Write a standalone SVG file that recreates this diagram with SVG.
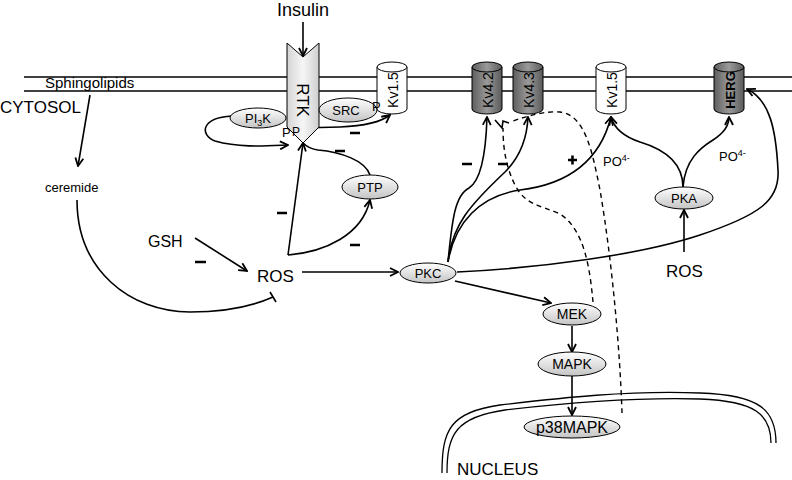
<svg xmlns="http://www.w3.org/2000/svg" width="792" height="480" viewBox="0 0 792 480">
<style>
text{font-family:"Liberation Sans",Arial,sans-serif;fill:#000}
.c{stroke:#000;stroke-width:1.6;fill:none}
.d{stroke:#000;stroke-width:1.4;fill:none;stroke-dasharray:5,4}
.m{stroke:#000;stroke-width:2.6;fill:none}
.e{stroke:#000;stroke-width:1;fill:url(#eg)}
.cw{stroke:#000;stroke-width:1;fill:#fff}
.cd{stroke:#000;stroke-width:1;fill:url(#dg)}
.mem{stroke:#000;stroke-width:1.3;fill:none}
.lab{font-size:13px;text-anchor:middle}
.kv{font-size:14px;text-anchor:middle}
</style>
<defs>
<linearGradient id="eg" x1="0" y1="0" x2="0" y2="1"><stop offset="0" stop-color="#ffffff"/><stop offset="1" stop-color="#c4c4c4"/></linearGradient>
<linearGradient id="dg" x1="0" y1="0" x2="1" y2="0"><stop offset="0" stop-color="#5e5e5e"/><stop offset="0.5" stop-color="#9a9a9a"/><stop offset="1" stop-color="#5a5a5a"/></linearGradient>
<linearGradient id="rg" x1="0" y1="0" x2="1" y2="0"><stop offset="0" stop-color="#d4d4d4"/><stop offset="0.5" stop-color="#f6f6f6"/><stop offset="1" stop-color="#cfcfcf"/></linearGradient>
<marker id="arr" viewBox="0 0 10 10" refX="9" refY="5" markerWidth="10" markerHeight="10" markerUnits="userSpaceOnUse" orient="auto"><path d="M1,1 L9,5 L1,9" fill="none" stroke="#000" stroke-width="1.8"/></marker>
</defs>
<rect width="792" height="480" fill="#fff"/>
<g id="membrane">
<line class="mem" x1="24" y1="77" x2="792" y2="77"/>
<line class="mem" x1="24" y1="91" x2="792" y2="91"/>
<text x="45" y="88" style="font-size:15px">Sphingolipids</text>
<text x="0" y="113" style="font-size:17px">CYTOSOL</text>
</g>
<g id="nucleus">
<path class="mem" d="M442,473 C442,430 450,412 500,405 C560,398 630,390 700,393 C760,395 776,410 776,443"/>
<path class="mem" d="M447,473 C447,434 456,417 505,410 C565,403 630,397 700,399 C756,401 771,415 771,443"/>
<text x="457" y="475" style="font-size:17px">NUCLEUS</text>
</g>
<g id="connectors">
<path class="c" marker-end="url(#arr)" d="M303,22 L303,56"/>
<path class="c" marker-end="url(#arr)" d="M90,95 L78,166"/>
<path class="c" d="M77,200 C77,270 130,312 190,312 C230,312 255,305 273,297"/>
<path class="c" d="M270,292 L276,302"/>
<path class="c" marker-end="url(#arr)" d="M195,238 L247,271"/>
<path class="c" marker-end="url(#arr)" d="M302,272 L398,272"/>
<path class="c" marker-end="url(#arr)" d="M288,255 L303,143"/>
<path class="c" marker-end="url(#arr)" d="M288,255 C325,252 362,235 370,200"/>
<path class="c" d="M370,175 C365,160 340,152 318,150 C310,149 306,146 303,143"/>
<path class="c" marker-end="url(#arr)" d="M232,116 C200,118 200,135 215,141 C240,148 265,146 288,145"/>
<path class="c" marker-end="url(#arr)" d="M300,128 L340,127 C362,126 381,122 390,115"/>
<path class="c" marker-end="url(#arr)" d="M448,262 C452,220 455,195 469,188 C482,180 486,150 487,117"/>
<path class="c" marker-end="url(#arr)" d="M448,262 C452,225 470,205 505,172 C520,157 527,140 528,117"/>
<path class="c" marker-end="url(#arr)" d="M448,262 C455,222 480,196 520,190 C570,184 600,160 611,117"/>
<path class="c" marker-end="url(#arr)" d="M457,272 C540,268 640,255 700,235 C760,215 780,200 778,170 C776,130 770,100 747,89"/>
<path class="c" marker-end="url(#arr)" d="M455,281 L551,303"/>
<path class="c" marker-end="url(#arr)" d="M572,326 L572,352"/>
<path class="c" marker-end="url(#arr)" d="M572,376 L572,415"/>
<path class="c" marker-end="url(#arr)" d="M684,252 L684,210"/>
<path class="c" marker-end="url(#arr)" d="M683,187 C683,160 660,148 640,142 C625,137 614,128 611,117"/>
<path class="c" marker-end="url(#arr)" d="M683,187 C685,160 700,148 713,140 C724,133 729,126 729,117"/>
<path class="d" d="M593,302 C590,270 585,230 560,214 C540,205 525,205 515,185 C505,165 503,145 503,128"/>
<path class="d" d="M622,413 C620,350 612,260 600,190 C592,150 585,115 560,112 C545,111 530,115 510,122"/>
<path class="c" stroke-width="2" d="M495,120 L502,128 L503,121 L509,123"/>
<path class="m" d="M277,213 L287,213 M350,245 L360,245 M335,151 L345,151 M350,133 L360,133 M195,262 L206,262 M462,164 L472,164 M498,164 L508,164 M568,160 L577,160 M572.5,155.5 L572.5,164.5"/>
</g>
<g id="RTK">
<path d="M287,43 L303,57 L319,43 L319,127 L303,143 L287,127 Z" fill="url(#rg)" stroke="#000" stroke-width="1"/>
<text transform="translate(303,100) rotate(90)" x="0" y="6" style="font-size:17px" text-anchor="middle">RTK</text>
</g>
<g id="Kv15a">
<path class="cw" d="M377,67 L377,109 A15,5 0 0 0 407,109 L407,67 Z"/>
<ellipse class="cw" cx="392" cy="67" rx="15" ry="5"/>
<text class="kv" transform="translate(393,90) rotate(-90)" x="0" y="5">Kv1.5</text>
</g>
<g id="Kv42">
<path class="cd" d="M472,67 L472,109 A15,5 0 0 0 502,109 L502,67 Z"/>
<ellipse class="cd" cx="487" cy="67" rx="15" ry="5"/>
<text class="kv" transform="translate(488,90) rotate(-90)" x="0" y="5">Kv4.2</text>
</g>
<g id="Kv43">
<path class="cd" d="M513,67 L513,109 A15,5 0 0 0 543,109 L543,67 Z"/>
<ellipse class="cd" cx="528" cy="67" rx="15" ry="5"/>
<text class="kv" transform="translate(529,90) rotate(-90)" x="0" y="5">Kv4.3</text>
</g>
<g id="Kv15b">
<path class="cw" d="M596,67 L596,109 A15,5 0 0 0 626,109 L626,67 Z"/>
<ellipse class="cw" cx="611" cy="67" rx="15" ry="5"/>
<text class="kv" transform="translate(612,90) rotate(-90)" x="0" y="5">Kv1.5</text>
</g>
<g id="HERG">
<path class="cd" d="M714,67 L714,109 A15,5 0 0 0 744,109 L744,67 Z"/>
<ellipse class="cd" cx="729" cy="67" rx="15" ry="5"/>
<text transform="translate(730,90) rotate(-90)" x="0" y="5" style="font-size:13px;font-weight:bold" text-anchor="middle">HERG</text>
</g>
<g id="PI3K">
<ellipse class="e" cx="258" cy="118" rx="28" ry="10"/>
<text class="lab" x="258" y="123">PI<tspan font-size="9" dy="3">3</tspan><tspan dy="-3">K</tspan></text>
</g>
<g id="SRC">
<ellipse class="e" cx="348" cy="110" rx="29" ry="12"/>
<text class="lab" x="346" y="115">SRC</text>
</g>
<g id="PTP">
<ellipse class="e" cx="370" cy="187" rx="28" ry="12"/>
<text class="lab" x="370" y="192">PTP</text>
</g>
<g id="PKC">
<ellipse class="e" cx="428" cy="273" rx="28" ry="10"/>
<text class="lab" x="428" y="278">PKC</text>
</g>
<g id="PKA">
<ellipse class="e" cx="684" cy="198" rx="29" ry="11"/>
<text class="lab" x="684" y="203">PKA</text>
</g>
<g id="MEK">
<ellipse class="e" cx="572" cy="314" rx="29" ry="11"/>
<text class="lab" x="572" y="319" style="font-size:14px">MEK</text>
</g>
<g id="MAPK">
<ellipse class="e" cx="572" cy="364" rx="34" ry="12"/>
<text class="lab" x="572" y="369" style="font-size:14px">MAPK</text>
</g>
<g id="p38MAPK">
<ellipse class="e" cx="572" cy="427" rx="48" ry="11"/>
<text class="lab" x="572" y="433" style="font-size:16px">p38MAPK</text>
</g>
<g id="labels">
<text x="303" y="16" style="font-size:18px" text-anchor="middle">Insulin</text>
<text x="45" y="192" style="font-size:13px">ceremide</text>
<text x="148" y="247" style="font-size:16px">GSH</text>
<text x="257" y="282" style="font-size:17px">ROS</text>
<text x="666" y="277" style="font-size:17px">ROS</text>
<text x="372" y="111" style="font-size:13px">P</text>
<text x="282" y="137" style="font-size:13px">P</text>
<text x="292" y="136" style="font-size:12px">P</text>
<text x="603" y="166" style="font-size:13px">PO<tspan font-size="9" dy="-5">4-</tspan></text>
<text x="719" y="161" style="font-size:13px">PO<tspan font-size="9" dy="-5">4-</tspan></text>
</g>
</svg>
